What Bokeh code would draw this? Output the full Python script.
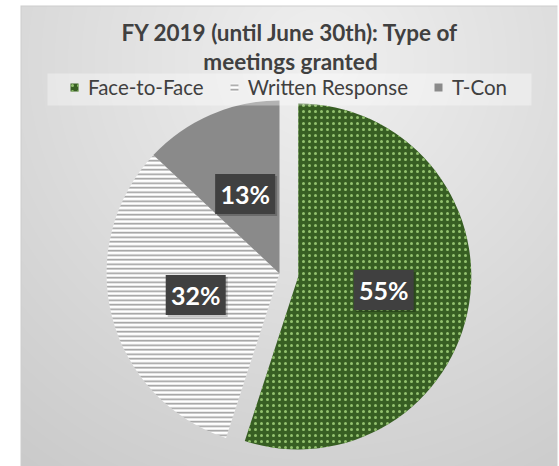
import numpy as np
from bokeh.plotting import figure
from bokeh.models import Label, Legend, LegendItem, BoxAnnotation
from bokeh.core.properties import value
from bokeh.embed import file_html
from bokeh.resources import INLINE

# ---- data ----
categories = ["Face-to-Face", "Written Response", "T-Con"]
shares = [55, 32, 13]
pct_labels = ["55%", "32%", "13%"]
title_lines = ["FY 2019 (until June 30th): Type of", "meetings granted"]

# ---- styles ----
fills = ["#375e23", "#ffffff", "#8a8a8a"]
hatches = ["dot", "horizontal_line", " "]
hatch_colors = ["#93c26f", "#9c9c9c", "#8a8a8a"]
hatch_scales = [6, 4.5, 6]
hatch_weights = [1.5, 1.6, 1]
explode = [19, 0, 0]

W, H = 559, 466
p = figure(width=W, height=H, x_range=(0, W), y_range=(0, H),
           output_backend="svg", toolbar_location=None, min_border=0,
           x_axis_location=None, y_axis_location=None)
p.grid.visible = False
p.outline_line_color = None
p.background_fill_color = "white"
p.border_fill_color = "white"

# background gradient panel
yy, xx = np.mgrid[0:H, 0:W]
dist = np.sqrt((xx - 320.0) ** 2 + (yy - 60.0) ** 2)
v = np.clip(240 - 0.075 * dist, 196, 241)
inside = (xx >= 20) & (yy >= 5) & (xx <= 556)
g = np.where(inside, v, 255).astype(np.uint32)
edge = inside & ((xx == 20) | (yy == 5))
g = np.where(edge, 205, g).astype(np.uint32)
img = (255 << 24) | (g << 16) | (g << 8) | g
img = img[::-1].copy()
p.image_rgba(image=[img], x=0, y=0, dw=W, dh=H)

# pie geometry
cx, cy, R = 279, 193, 173
fr = np.array(shares, dtype=float) / sum(shares)
cum = np.concatenate([[0.0], np.cumsum(fr)])
start = np.pi / 2 - 2 * np.pi * cum[:-1]
end = np.pi / 2 - 2 * np.pi * cum[1:]
mid = (start + end) / 2
xs = cx + np.array(explode) * np.cos(mid)
ys = cy + np.array(explode) * np.sin(mid)

renderers = []
for i, cat in enumerate(categories):
    kw = dict(x=[xs[i]], y=[ys[i]], radius=R, start_angle=[start[i]], end_angle=[end[i]],
              direction="clock", fill_color=fills[i], line_color=None)
    if hatches[i] != " ":
        kw.update(hatch_pattern=hatches[i], hatch_color=hatch_colors[i],
                  hatch_scale=hatch_scales[i], hatch_weight=hatch_weights[i])
    r = p.wedge(**kw)
    renderers.append(r)

# data labels
lx = xs + 0.5 * R * np.cos(mid)
ly = ys + 0.5 * R * np.sin(mid)
p.rect(x=lx + 2, y=ly - 2, width=60, height=40, width_units="screen", height_units="screen",
       fill_color="black", fill_alpha=0.22, line_color=None)
p.rect(x=lx, y=ly, width=60, height=40, width_units="screen", height_units="screen",
       fill_color="#404040", line_color=None)
p.text(x=lx, y=ly, text=pct_labels, text_font=value("Lato"), text_font_style="bold",
       text_font_size="25px", text_color="white", text_align="center", text_baseline="middle")

# legend band
p.add_layout(BoxAnnotation(left=47, right=531, bottom=H - 105, top=H - 73,
                           fill_color="white", fill_alpha=0.35, line_color=None))
legend = Legend(items=[LegendItem(label=c, renderers=[r]) for c, r in zip(categories, renderers)],
                orientation="horizontal", location=(69, H - 99),
                background_fill_alpha=0, border_line_color=None,
                label_text_font="Lato", label_text_font_size="20.5px", label_text_color="#404040",
                glyph_width=10, glyph_height=10, label_standoff=9, spacing=25,
                padding=0, margin=0, label_height=20)
p.add_layout(legend)

# title
for k, t in enumerate(title_lines):
    p.add_layout(Label(x=290, y=H - 32 - 29 * k, text=t, text_align="center", text_baseline="middle",
                       text_font="Lato", text_font_style="bold", text_font_size="22.5px",
                       text_color="#404040"))

open("out.html", "w").write(file_html(p, INLINE))
